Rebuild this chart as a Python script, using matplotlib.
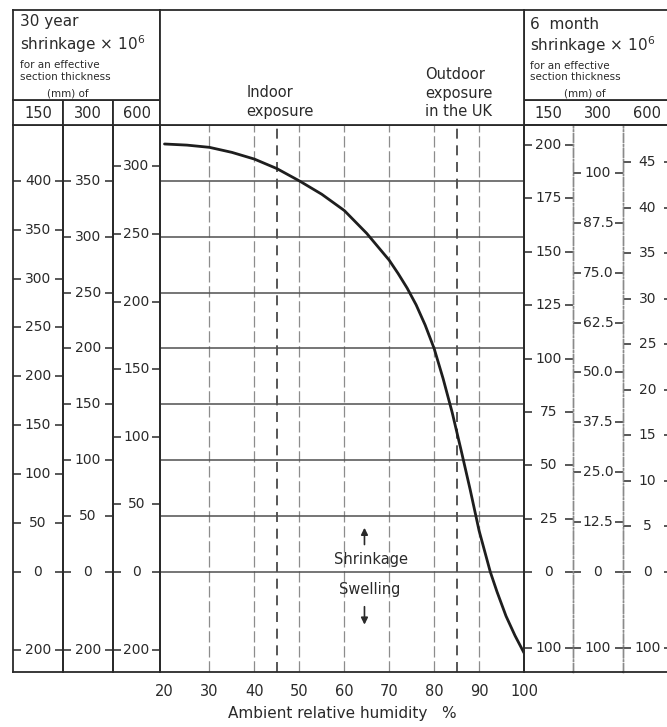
import numpy as np
import matplotlib
matplotlib.use("Agg")
import matplotlib.pyplot as plt

# curve: ambient RH (%) against 30 year shrinkage x 10^6
# on the 300 mm scale (negative = swelling)
rh = [20, 25, 30, 35, 40, 45, 50, 55, 60, 65, 70, 72, 74, 76, 78, 80,
      82, 84, 86, 88, 90, 92.5, 94, 96, 98, 100]
shrink = [383, 382, 380, 375.5, 369.5, 361, 350, 338, 323.5, 303, 279, 267, 254, 239, 221, 200,
          173, 143, 109, 74, 37, 0, -51, -113, -163, -207]

rh_ticks = [20, 30, 40, 50, 60, 70, 80, 90, 100]
rh_grid = [30, 40, 50, 60, 70, 80, 90]
grid_levels = [0, 50, 100, 150, 200, 250, 300, 350]
exposure_rh = [45, 85]

thickness = ["150", "300", "600"]

# side scales (negative value = swelling mark)
yr30_150 = [400, 350, 300, 250, 200, 150, 100, 50, 0, -200]
yr30_300 = [350, 300, 250, 200, 150, 100, 50, 0, -200]
yr30_600 = [300, 250, 200, 150, 100, 50, 0, -200]
mo6_150 = [200, 175, 150, 125, 100, 75, 50, 25, 0, -100]
mo6_300 = [100, 87.5, 75, 62.5, 50, 37.5, 25, 12.5, 0, -100]
mo6_300_labels = ["100", "87.5", "75.0", "62.5", "50.0", "37.5", "25.0", "12.5", "0", "100"]
mo6_600 = [45, 40, 35, 30, 25, 20, 15, 10, 5, 0, -100]

ink = "#2a2a2a"
W, H = 667, 727
fig = plt.figure(figsize=(W / 100, H / 100), dpi=100)
fig.patch.set_facecolor("white")


def box(x0, x1, y0, y1):
    # pixel box, y measured from the top
    return fig.add_axes([x0 / W, 1 - y1 / H, (x1 - x0) / W, (y1 - y0) / H])


def piecewise(k, ks):
    def fwd(v):
        v = np.asarray(v, dtype=float)
        return np.where(v >= 0, v * k, v * ks)

    def inv(t):
        t = np.asarray(t, dtype=float)
        return np.where(t >= 0, t / k, t / ks)
    return fwd, inv


def frame(ax, lw=1.3):
    for s in ax.spines.values():
        s.set_color(ink)
        s.set_linewidth(lw)
    ax.set_xticks([])
    ax.set_yticks([])


# main chart
ax = box(160, 524, 125, 672)
fwd_main, inv_main = piecewise(1.0, 0.35)
ax.set_yscale("function", functions=(fwd_main, inv_main))
ax.set_xlim(19, 100)
ax.set_ylim(-256, 400)
frame(ax)
ax.set_xticks(rh_ticks)
ax.set_yticks(grid_levels)
ax.tick_params(axis="x", length=0, pad=9, labelsize=10.5, labelcolor=ink)
ax.tick_params(axis="y", left=False, labelleft=False)
ax.grid(axis="y", color="#505050", lw=1.1, ls="-")
for x in rh_grid:
    ax.axvline(x, color="#8c8c8c", lw=0.9, ls=(0, (9, 3)), zorder=1)
for x in exposure_rh:
    ax.axvline(x, color="#3a3a3a", lw=1.2, ls=(0, (6, 4)), zorder=1.5)
ax.plot(rh, shrink, color="#1e1e1e", lw=2.0, solid_capstyle="round",
        solid_joinstyle="round", zorder=3)
ax.set_xlabel("Ambient relative humidity   %", fontsize=11, color=ink, labelpad=5)

ax.annotate("", xy=(64.5, 42), xytext=(64.5, 22),
            arrowprops=dict(arrowstyle="-|>", color=ink, lw=1.2, mutation_scale=10))
ax.annotate("", xy=(64.5, -142), xytext=(64.5, -82),
            arrowprops=dict(arrowstyle="-|>", color=ink, lw=1.2, mutation_scale=10))
ax.text(66.0, 11, "Shrinkage", ha="center", va="center", fontsize=10.5, color=ink)
ax.text(65.7, -46, "Swelling", ha="center", va="center", fontsize=10.5, color=ink)

t_lo, t_hi = float(fwd_main(-256)), 400.0

# side scale columns
columns = [
    (13, 63, yr30_150, None, 0.875, 0.35, "-", "-"),
    (63, 113, yr30_300, None, 1.0, 0.35, "-", "-"),
    (113, 160, yr30_600, None, 1.21, 0.35, "-", "-"),
    (524, 573, mo6_150, None, 1.91, 0.68, "-", "-."),
    (573, 623, mo6_300, mo6_300_labels, 3.57, 0.68, "-.", "-."),
    (623, 672, mo6_600, None, 8.15, 0.68, "-.", "-"),
]
for x0, x1, vals, labs, k, ks, ls_l, ls_r in columns:
    cax = box(x0, x1, 125, 672)
    fwd, inv = piecewise(k, ks)
    cax.set_yscale("function", functions=(fwd, inv))
    cax.set_ylim(float(inv(t_lo)), float(inv(t_hi)))
    cax.patch.set_alpha(0)
    frame(cax)
    for side, ls in (("left", ls_l), ("right", ls_r)):
        cax.spines[side].set_linestyle(ls)
        if ls != "-":
            cax.spines[side].set_color("#8a8a8a")
            cax.spines[side].set_linewidth(1.0)
    cax.set_yticks(vals)
    cax.tick_params(axis="y", direction="in", left=True, right=True, length=6,
                    width=1.1, color=ink, labelleft=False)
    if labs is None:
        labs = [f"{abs(v):g}" for v in vals]
    for v, lab in zip(vals, labs):
        cax.text(0.5, v, lab, transform=cax.get_yaxis_transform(),
                 ha="center", va="center", fontsize=10, color=ink)

# thickness header cells
for i, (x0, x1) in enumerate([(13, 63), (63, 113), (113, 160)]):
    hc = box(x0, x1, 100, 125)
    frame(hc)
    hc.text(0.5, 0.45, thickness[i], ha="center", va="center", fontsize=10.5, color=ink)
for i, (x0, x1) in enumerate([(524, 573), (573, 623), (623, 672)]):
    hc = box(x0, x1, 100, 125)
    frame(hc)
    hc.patch.set_alpha(0)
    if i > 0:
        hc.spines["left"].set_visible(False)
    if i < 2:
        hc.spines["right"].set_visible(False)
    hc.text(0.5, 0.45, thickness[i], ha="center", va="center", fontsize=10.5, color=ink)

# title boxes
hl = box(13, 160, 10, 100)
frame(hl)
hl.text(0.05, 0.96, "30 year\nshrinkage × 10$^6$", ha="left", va="top",
        fontsize=11, color=ink, linespacing=1.3)
hl.text(0.05, 0.45, "for an effective\nsection thickness", ha="left", va="top",
        fontsize=7.5, color=ink, linespacing=1.25)
hl.text(0.37, 0.02, "(mm) of", ha="center", va="bottom", fontsize=7.5, color=ink)

hr = box(524, 672, 10, 100)
frame(hr)
hr.text(0.04, 0.92, "6  month\nshrinkage × 10$^6$", ha="left", va="top",
        fontsize=11, color=ink, linespacing=1.15)
hr.text(0.04, 0.43, "for an effective\nsection thickness", ha="left", va="top",
        fontsize=7.5, color=ink, linespacing=1.1)
hr.text(0.41, 0.02, "(mm) of", ha="center", va="bottom", fontsize=7.5, color=ink)

hm = box(160, 524, 10, 125)
frame(hm)
hm.set_xlim(19, 100)
hm.text(38.3, 0.05, "Indoor\nexposure", transform=hm.get_xaxis_transform(),
        ha="left", va="bottom", fontsize=10.5, color=ink, linespacing=1.35)
hm.text(78.0, 0.05, "Outdoor\nexposure\nin the UK", transform=hm.get_xaxis_transform(),
        ha="left", va="bottom", fontsize=10.5, color=ink, linespacing=1.3)

fig.savefig("out.png", dpi=100, facecolor="white")
